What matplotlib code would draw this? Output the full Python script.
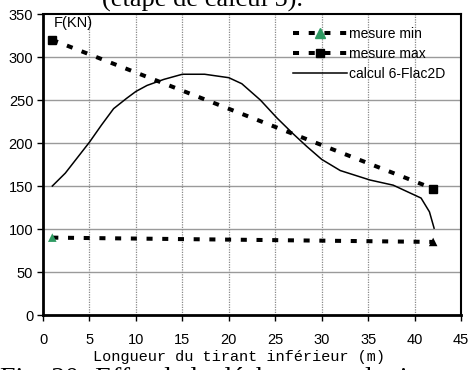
import matplotlib
matplotlib.use("Agg")
import matplotlib.pyplot as plt
from matplotlib.lines import Line2D

# data
x_min = [1, 42]
y_min = [90, 85]
min_colors = ["#2e9a62", "black"]

x_max = [1, 42]
y_max = [320, 147]

x_calc = [1, 2.4, 5, 6.3, 7.6, 9, 10, 11.2, 13, 15, 17.4, 20, 21.4, 23.4,
          25.2, 26.9, 28.4, 30, 32, 35.2, 37.7, 39.3, 40.7, 41.6, 42.1]
y_calc = [150, 165, 201, 221, 240, 252, 260, 267, 274, 280, 280, 276, 269, 250,
          229, 211, 196, 181, 168, 157, 151, 143, 136, 120, 101]

x_ticks = list(range(0, 50, 5))
y_ticks = list(range(0, 400, 50))

SANS = "Liberation Sans"
SERIF = "Liberation Serif"
MONO = "Liberation Mono"

fig = plt.figure(figsize=(4.69, 3.70), dpi=100)
ax = fig.add_axes([0.0917, 0.1486, 0.8913, 0.8134])

ax.set_xlim(0, 45)
ax.set_ylim(0, 350)
ax.set_xticks(x_ticks)
ax.set_yticks(y_ticks)

# grid
for yt in y_ticks[1:-1]:
    ax.axhline(yt, color="#9a9a9a", lw=1.0, zorder=0)
for xt in x_ticks[1:-1]:
    ax.axvline(xt, color="#8a8a8a", lw=0.9, ls=(0, (1, 1)), zorder=0)

dash = (0, (1.5, 2.4))
ax.plot(x_min, y_min, color="black", lw=2.9, ls=dash, zorder=2)
ax.scatter(x_min, y_min, marker="^", s=38, c=min_colors, zorder=3, linewidths=0)
ax.plot(x_max, y_max, color="black", lw=2.9, ls=dash, marker="s", ms=6.3, zorder=2)
ax.plot(x_calc, y_calc, color="black", lw=1.1, zorder=2)

ax.text(1.2, 340, "F(KN)", fontsize=10.5, family=SANS, va="center", ha="left")

for sp in ax.spines.values():
    sp.set_color("black")
ax.spines["left"].set_linewidth(2.0)
ax.spines["bottom"].set_linewidth(2.0)
ax.spines["top"].set_linewidth(1.5)
ax.spines["right"].set_linewidth(1.5)

ax.tick_params(axis="both", direction="out", length=4, width=1, color="black",
               labelsize=10.5, pad=3)
ax.tick_params(axis="x", pad=9)
for lab in ax.get_xticklabels() + ax.get_yticklabels():
    lab.set_family(SANS)

handles = [
    Line2D([], [], color="black", lw=2.9, ls=dash, marker="^", ms=6.5,
           markerfacecolor="#2e9a62", markeredgecolor="#2e9a62"),
    Line2D([], [], color="black", lw=2.9, ls=dash, marker="s", ms=6.3),
    Line2D([], [], color="black", lw=1.1),
]
leg = ax.legend(handles, ["mesure min", "mesure max", "calcul 6-Flac2D"],
                loc="upper right", bbox_to_anchor=(0.985, 0.99), frameon=False,
                prop={"family": SANS, "size": 10}, handlelength=3.9,
                handletextpad=0.15, labelspacing=0.45, borderaxespad=0.3)

fig.text(238.5 / 469, 1 - 357 / 370, "Longueur du tirant inférieur (m)",
         family=MONO, fontsize=11, ha="center", va="center")
fig.text(202 / 469, 1 - 7 / 370, "(étape de calcul 5).", family=SERIF, fontsize=19,
         ha="center", va="baseline")
fig.text(0.0, 1 - 386 / 370, "Fig. 20- Effet de la décharge sur le tirant",
         family=SERIF, fontsize=20, ha="left", va="baseline")

fig.savefig("out.png", dpi=100)
